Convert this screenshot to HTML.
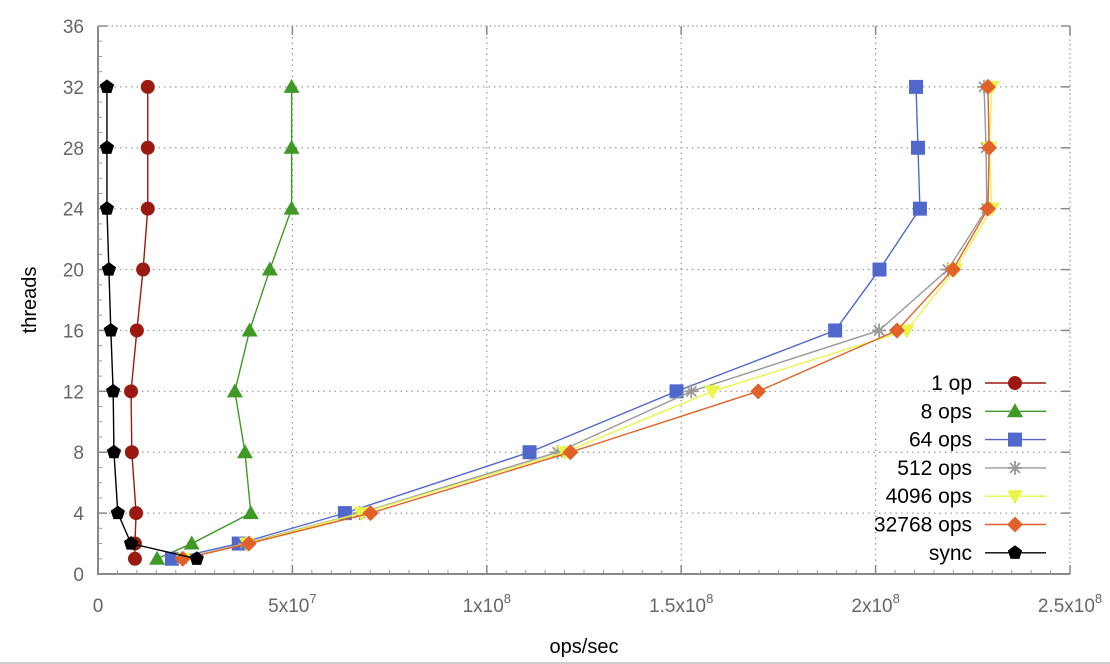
<!DOCTYPE html>
<html><head><meta charset="utf-8"><style>
body{margin:0;background:#fff;}
svg{display:block;font-family:"Liberation Sans",sans-serif;}
</style></head><body>
<svg id="chart" width="1110" height="664" viewBox="0 0 1110 664"></svg>
<script>
const threads=[1,2,4,8,12,16,20,24,28,32];
const seriesNames=["1 op","8 ops","64 ops","512 ops","4096 ops","32768 ops","sync"];
const s1op=[9.5,9.5,9.8,8.7,8.5,10,11.6,12.8,12.8,12.8];
const s8ops=[15.2,24.1,39.3,37.8,35.2,39,44.2,49.8,49.8,49.8];
const s64ops=[19,36.2,63.5,111,148.8,189.6,201,211.4,210.9,210.4];
const s512ops=[21.6,37.8,67.3,118.2,152.6,200.9,218.6,228.6,228.4,227.9];
const s4096ops=[21.8,38.3,67.8,120,158,208,220.4,229.9,229.2,229.9];
const s32768ops=[21.8,38.8,70.1,121.5,169.8,205.5,219.9,228.9,229.2,228.9];
const ssync=[25.4,8.5,5.1,4.1,3.9,3.3,2.8,2.3,2.3,2.3];
const yTicks=[0,4,8,12,16,20,24,28,32,36];
const xTicks=[0,50,100,150,200,250];
const xTickLabels=["0","5x10^7","1x10^8","1.5x10^8","2x10^8","2.5x10^8"];

const L=98,R=1070,T=26,B=574;
const xs=v=>L+v/250*(R-L);
const ys=v=>B-v/36*(B-T);
const svg=document.getElementById('chart');
const NS="http://www.w3.org/2000/svg";
function mk(tag,attrs,parent){const e=document.createElementNS(NS,tag);for(const k in attrs)e.setAttribute(k,attrs[k]);(parent||svg).appendChild(e);return e;}

// grid
yTicks.forEach((t,i)=>{
  const y=ys(t);
  if(t>0&&t<36){const g=mk('line',{x1:L,x2:R,y1:y,y2:y,stroke:'#999','stroke-dasharray':'1.5,4','stroke-width':1.2});
  
  }
  mk('line',{x1:L,x2:L+9,y1:y,y2:y,stroke:'#888','stroke-width':1.5});
  mk('line',{x1:R,x2:R-9,y1:y,y2:y,stroke:'#888','stroke-width':1.5});
  const tx=mk('text',{x:84,y:y+7,'text-anchor':'end','font-size':19,fill:'#666'});
  tx.textContent=t;
  
  
});
xTicks.forEach((t,i)=>{
  const x=xs(t);
  if(t>0&&t<250){const g=mk('line',{x1:x,x2:x,y1:T,y2:B,stroke:'#999','stroke-dasharray':'1.5,4','stroke-width':1.2});
  
  }
  mk('line',{x1:x,x2:x,y1:B,y2:B-9,stroke:'#888','stroke-width':1.5});
  mk('line',{x1:x,x2:x,y1:T,y2:T+9,stroke:'#888','stroke-width':1.5});
  const lab=xTickLabels[i];
  const tx=mk('text',{x:x,y:612,'text-anchor':'middle','font-size':19,fill:'#666'});
  
  
  if(lab.includes('^')){const [a,b]=lab.split('^');tx.appendChild(document.createTextNode(a));const sp=mk('tspan',{dy:-9,'font-size':13},tx);sp.textContent=b;}
  else tx.textContent=lab;
});
// minor ticks
for(let v=1;v<36;v++){if(v%4)mk('line',{x1:L,x2:L+4,y1:ys(v),y2:ys(v),stroke:'#999'});}
for(let v=5;v<250;v+=5){if(v%50)mk('line',{x1:xs(v),x2:xs(v),y1:B,y2:B-4,stroke:'#999'});}
// frame
const fr=mk('path',{d:`M${L},${T}V${B}H${R}`,fill:'none',stroke:'#888','stroke-width':2});


mk('path',{d:`M${L},${T}H${R}V${B}`,fill:'none',stroke:'#999','stroke-dasharray':'1.5,3','stroke-width':1.2});

const colors=['#9a1a12','#3e9a25','#5068cc','#999999','#e8f54a','#e0622a','#000000'];
const lineCols=['#9a1a12','#3e9a25','#5068cc','#999999','#e8f54a','#e0622a','#000000'];
const markers=['circle','tri','square','star','tridown','diamond','pent'];
const data=[s1op,s8ops,s64ops,s512ops,s4096ops,s32768ops,ssync];

function marker(type,x,y,c,g){
  if(type==='circle')return mk('circle',{cx:x,cy:y,r:7,fill:c},g);
  if(type==='square')return mk('rect',{x:x-7,y:y-7,width:14,height:14,fill:c},g);
  if(type==='tri')return mk('polygon',{points:`${x},${y-8} ${x+8},${y+6} ${x-8},${y+6}`,fill:c},g);
  if(type==='tridown')return mk('polygon',{points:`${x},${y+8} ${x+8},${y-6} ${x-8},${y-6}`,fill:c},g);
  if(type==='diamond')return mk('polygon',{points:`${x},${y-8} ${x+8},${y} ${x},${y+8} ${x-8},${y}`,fill:c},g);
  if(type==='pent'){let p=[];for(let k=0;k<5;k++){const a=-Math.PI/2+k*2*Math.PI/5;p.push((x+7.5*Math.cos(a))+','+(y+7.5*Math.sin(a)));}return mk('polygon',{points:p.join(' '),fill:c},g);}
  if(type==='star'){const s=mk('path',{d:`M${x-7},${y}H${x+7}M${x},${y-7}V${y+7}M${x-5},${y-5}L${x+5},${y+5}M${x-5},${y+5}L${x+5},${y-5}`,stroke:c,'stroke-width':1.8},g);return s;}
}
data.forEach((arr,si)=>{
  const g=mk('g',{});
  
  
  const pts=arr.map((v,i)=>xs(v)+','+ys(threads[i])).join(' ');
  const pl=mk('polyline',{points:pts,fill:'none',stroke:lineCols[si],'stroke-width':1.4},g);
  
  
  arr.forEach((v,i)=>{const m=marker(markers[si],xs(v),ys(threads[i]),colors[si],g);
    
    });
  // legend
  const ly=383+si*28.3;
  const lg=mk('g',{});
  
  
  const lt=mk('text',{x:972,y:ly+7,'text-anchor':'end','font-size':21,fill:'#000'},lg);
  lt.textContent=seriesNames[si];
  mk('line',{x1:985,x2:1046,y1:ly,y2:ly,stroke:lineCols[si],'stroke-width':1.4},lg);
  marker(markers[si],1015,ly,colors[si],lg);
});
const xt=mk('text',{x:584,y:653,'text-anchor':'middle','font-size':20,fill:'#000'});
xt.textContent='ops/sec';


const yt=mk('text',{x:0,y:0,'text-anchor':'middle','font-size':20,fill:'#000',transform:'translate(36,300) rotate(-90)'});
yt.textContent='threads';


mk('line',{x1:0,x2:1110,y1:663,y2:663,stroke:'#ccc','stroke-width':2});
</script>
</body></html>
